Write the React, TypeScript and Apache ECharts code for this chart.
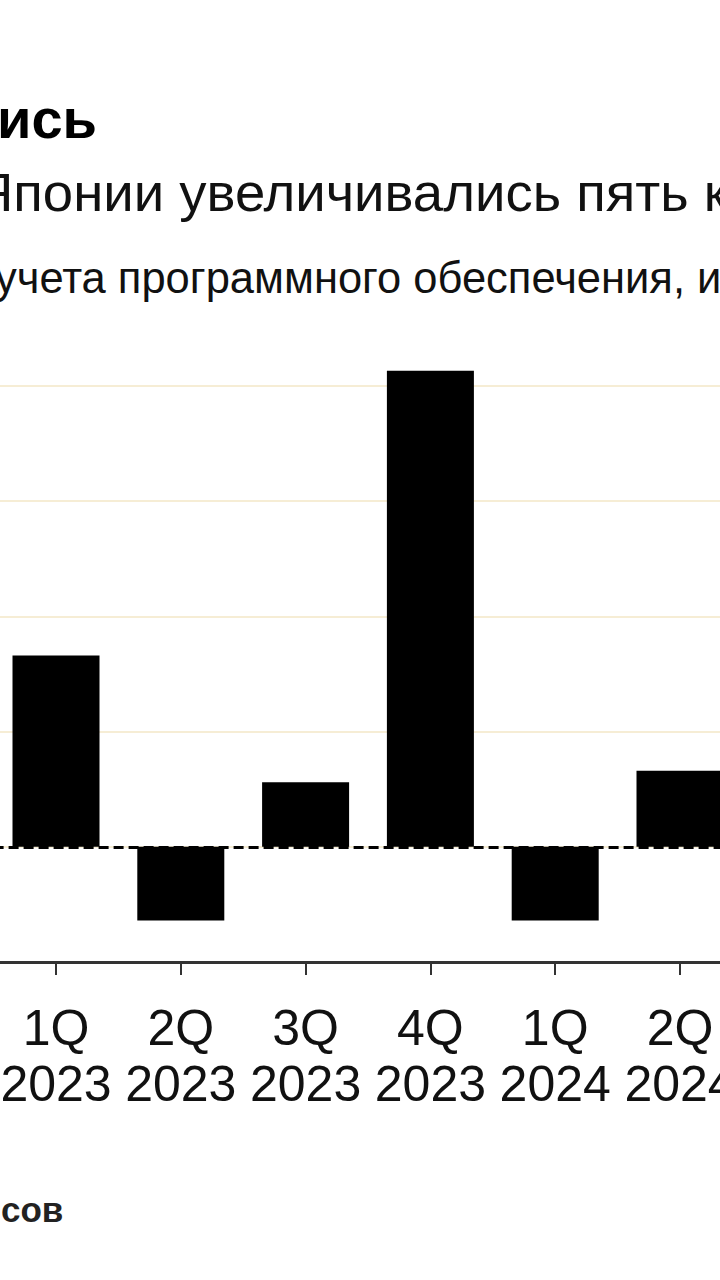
import React, { useEffect, useRef } from "react";
import * as echarts from "echarts";

const quarters = ["1Q", "2Q", "3Q", "4Q", "1Q", "2Q"];
const years = ["2023", "2023", "2023", "2023", "2024", "2024"];
const values = [1.66, -0.64, 0.56, 4.13, -0.64, 0.66];
const yTicks = [-1, 0, 1, 2, 3, 4, 5];

const titleText = "ись";
const subtitleText = "Японии увеличивались пять к";
const noteText = "учета программного обеспечения, и";
const sourceText = "сов";

const FONT = "'Liberation Sans', Arial, Helvetica, sans-serif";
const OFFSET = 40; // chart canvas extends 40px beyond the left edge of the view

export default function App() {
  const ref = useRef<HTMLDivElement>(null);
  useEffect(() => {
    if (!ref.current) return;
    const chart = echarts.init(ref.current, undefined, { renderer: "svg" });
    const categories = quarters.map((q, i) => `${q}\n${years[i]}`);
    const splitColors = yTicks.map((t, i) =>
      i === 0 || i === yTicks.length - 1 ? "rgba(0,0,0,0)" : "#f6edd5"
    );
    chart.setOption({
      animation: false,
      backgroundColor: "#ffffff",
      textStyle: { fontFamily: FONT },
      grid: { left: OFFSET - 6.4, right: 17.6, top: 270.5, bottom: 318, containLabel: false },
      xAxis: {
        type: "category",
        data: categories,
        axisLine: { show: true, onZero: false, lineStyle: { color: "#333333", width: 3 } },
        axisTick: {
          show: true,
          alignWithLabel: true,
          interval: 0,
          length: 13,
          lineStyle: { color: "#333333", width: 2 },
        },
        axisLabel: {
          interval: 0,
          color: "#111111",
          fontSize: 50,
          lineHeight: 56,
          margin: 38,
          fontFamily: FONT,
        },
      },
      yAxis: {
        type: "value",
        min: yTicks[0],
        max: yTicks[yTicks.length - 1],
        interval: 1,
        axisLabel: { show: false },
        axisLine: { show: false },
        axisTick: { show: false },
        splitLine: { show: true, lineStyle: { color: splitColors, width: 2 } },
      },
      series: [
        {
          type: "bar",
          data: values,
          barWidth: 87,
          itemStyle: { color: "#000000" },
          markLine: {
            silent: true,
            symbol: "none",
            label: { show: false },
            lineStyle: { color: "#000000", type: [10, 5], width: 3 },
            data: [{ yAxis: 0 }],
          },
        },
      ],
      graphic: [
        {
          type: "text",
          x: OFFSET - 3,
          y: 90,
          style: { text: titleText, font: `bold 56px ${FONT}`, fill: "#000000" },
        },
        {
          type: "text",
          x: OFFSET - 26,
          y: 165,
          style: { text: subtitleText, font: `54.5px ${FONT}`, fill: "#111111" },
        },
        {
          type: "text",
          x: OFFSET - 5,
          y: 256,
          style: { text: noteText, font: `43.5px ${FONT}`, fill: "#111111" },
        },
        {
          type: "text",
          x: OFFSET + 1,
          y: 1192,
          style: { text: sourceText, font: `bold 35px ${FONT}`, fill: "#222222" },
        },
      ],
    });
    return () => chart.dispose();
  }, []);
  return (
    <div
      style={{
        position: "absolute",
        left: 0,
        top: 0,
        width: 720,
        height: 1280,
        overflow: "hidden",
        background: "#fff",
      }}
    >
      <div ref={ref} style={{ position: "absolute", left: -OFFSET, top: 0, width: 800, height: 1280 }} />
    </div>
  );
}
